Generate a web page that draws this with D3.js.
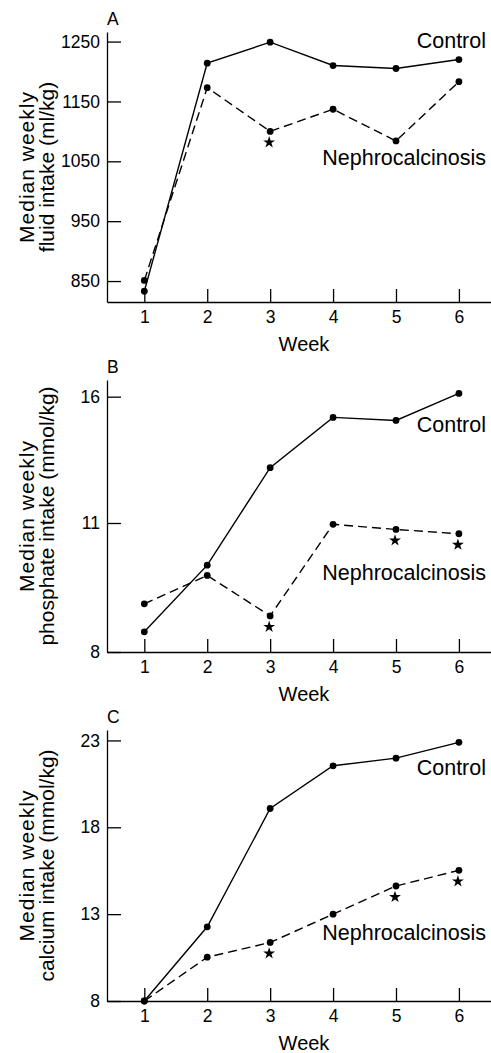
<!DOCTYPE html>
<html>
<head>
<meta charset="utf-8">
<script src="https://cdn.jsdelivr.net/npm/d3@7"></script>
<style>
  html, body { margin: 0; padding: 0; background: #fff; }
  svg { display: block; font-family: "Liberation Sans", Arial, Helvetica, sans-serif; }
</style>
</head>
<body>
<div id="chart"></div>
<script>
// weeks on the x axis
const weeks = [1, 2, 3, 4, 5, 6];

// A: fluid intake (ml/kg)
const fluidControl = [833, 1214, 1249, 1210, 1205, 1220];
const fluidNephro = [851, 1173, 1100, 1137, 1084, 1183];
const fluidStars = [3];
const fluidTicks = [850, 950, 1050, 1150, 1250];

// B: phosphate intake (mmol/kg)
const phosControl = [8.47, 10.02, 13.19, 15.18, 15.06, 16.13];
const phosNephro = [9.12, 9.78, 8.84, 10.97, 10.85, 10.75];
const phosStars = [3, 5, 6];
const phosTicks = [8, 11, 16];

// C: calcium intake (mmol/kg)
const calcControl = [8.0, 12.27, 19.08, 21.54, 21.98, 22.89];
const calcNephro = [8.0, 10.52, 11.37, 13.0, 14.62, 15.52];
const calcStars = [3, 5, 6];
const calcTicks = [8, 13, 18, 23];

const width = 491, height = 1053;
const axisX = 107;

// panel frames: top of y axis, x axis position, y domain (B axis is not evenly spaced in the original)
const panels = [
  {letter: "A", top: 32, bottom: 302, domain: [815, 1266], ticks: fluidTicks,
   control: fluidControl, nephro: fluidNephro, stars: fluidStars,
   ylab: ["Median weekly", "fluid intake (ml/kg)"], ctrlDy: 16, nephDy: 133},
  {letter: "B", top: 380, bottom: 652, domain: [8, 11, 16.66], ticks: phosTicks,
   control: phosControl, nephro: phosNephro, stars: phosStars,
   ylab: ["Median weekly", "phosphate intake (mmol/kg)"], ctrlDy: 52, nephDy: 200},
  {letter: "C", top: 730, bottom: 1001, domain: [8, 23.6], ticks: calcTicks,
   control: calcControl, nephro: calcNephro, stars: calcStars,
   ylab: ["Median weekly", "calcium intake (mmol/kg)"], ctrlDy: 45, nephDy: 210},
];

const svg = d3.select("#chart").append("svg")
  .attr("width", width).attr("height", height)
  .attr("viewBox", [0, 0, width, height]);

const x = d3.scaleLinear().domain([0.407, 6.51]).range([axisX, width]);

panels.forEach(p => {
  let y;
  if (p.domain.length === 3) {
    y = d3.scaleLinear().domain(p.domain).range([p.bottom, 523, p.top]);
  } else {
    y = d3.scaleLinear().domain(p.domain).range([p.bottom, p.top]);
  }

  const g = svg.append("g");

  // axes
  const xAxis = g.append("g")
    .attr("transform", `translate(0,${p.bottom})`)
    .call(d3.axisBottom(x).tickValues(weeks).tickFormat(d3.format("d"))
      .tickSizeInner(-13).tickSizeOuter(0).tickPadding(9));
  const yAxis = g.append("g")
    .attr("transform", `translate(${axisX},0)`)
    .call(d3.axisLeft(y).tickValues(p.ticks).tickFormat(d3.format("d"))
      .tickSizeInner(-14).tickSizeOuter(0).tickPadding(7));
  [xAxis, yAxis].forEach(a => {
    a.selectAll("path, line").attr("stroke", "#000").attr("stroke-width", 1.3);
    a.selectAll("text").attr("fill", "#000").style("font-size", "17.5px");
    a.attr("font-family", null);
  });

  // week label
  g.append("text")
    .attr("x", 304).attr("y", p.bottom + 49)
    .attr("text-anchor", "middle")
    .style("font-size", "20px")
    .text("Week");

  // panel letter
  g.append("text")
    .attr("x", axisX).attr("y", p.top - 7)
    .style("font-size", "17.5px")
    .text(p.letter);

  // y label, two lines rotated
  const mid = (p.top + p.bottom) / 2;
  const yl = g.append("text")
    .attr("transform", `translate(33.5,${mid}) rotate(-90)`)
    .attr("text-anchor", "middle")
    .style("font-size", "21px");
  p.ylab.forEach((t, i) => {
    yl.append("tspan").attr("x", 0).attr("y", i * 20.5)
      .attr("letter-spacing", i === 0 ? 1 : 0)
      .text(t);
  });

  // lines
  const line = d3.line().x((d, i) => x(weeks[i])).y(d => y(d));
  g.append("path").datum(p.control)
    .attr("d", line).attr("fill", "none")
    .attr("stroke", "#000").attr("stroke-width", 1.4);
  g.append("path").datum(p.nephro)
    .attr("d", line).attr("fill", "none")
    .attr("stroke", "#000").attr("stroke-width", 1.4)
    .attr("stroke-dasharray", "9,5");

  // dots
  [p.control, p.nephro].forEach(vals => {
    g.append("g").selectAll("circle")
      .data(vals)
      .join("circle")
      .attr("cx", (d, i) => x(weeks[i]))
      .attr("cy", d => y(d))
      .attr("r", 3.4)
      .attr("fill", "#000");
  });

  // significance stars below nephrocalcinosis points
  g.append("g").selectAll("path")
    .data(p.stars)
    .join("path")
    .attr("d", d3.symbol(d3.symbolStar, 44))
    .attr("transform", w => `translate(${x(w) - 1},${y(p.nephro[weeks.indexOf(w)]) + 11})`)
    .attr("fill", "#000");

  // series labels
  g.append("text")
    .attr("x", 486).attr("y", p.top + p.ctrlDy)
    .attr("text-anchor", "end")
    .style("font-size", "21.5px")
    .text("Control");
  g.append("text")
    .attr("x", 486).attr("y", p.top + p.nephDy)
    .attr("text-anchor", "end")
    .style("font-size", "21.5px")
    .text("Nephrocalcinosis");
});
</script>
</body>
</html>
